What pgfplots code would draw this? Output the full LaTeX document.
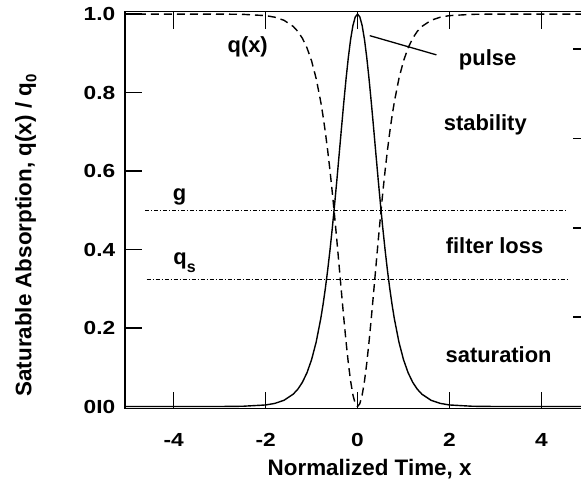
\documentclass[border=0pt]{standalone}
\usepackage{fontspec}
\setmainfont{Liberation Sans}
\newfontfamily\labfont{Liberation Sans Bold}
\usepackage{graphicx}
\usepackage{pgfplots}
\usepackage{pgfplotstable}
\pgfplotsset{compat=1.18}
\newcommand\tk[1]{\scalebox{1.2}[1]{#1}}

\pgfplotstableread{
x p q
-5.06 0.0000 1.0000
-4.00 0.0000 1.0000
-3.00 0.0001 0.9999
-2.50 0.0007 0.9993
-2.00 0.0040 0.9960
-1.80 0.0080 0.9920
-1.60 0.0159 0.9841
-1.40 0.0315 0.9685
-1.30 0.0442 0.9558
-1.20 0.0618 0.9382
-1.10 0.0862 0.9138
-1.00 0.1195 0.8805
-0.90 0.1645 0.8355
-0.80 0.2242 0.7758
-0.75 0.2605 0.7395
-0.70 0.3015 0.6985
-0.65 0.3475 0.6525
-0.60 0.3983 0.6017
-0.55 0.4539 0.5461
-0.50 0.5137 0.4863
-0.45 0.5770 0.4230
-0.40 0.6427 0.3573
-0.35 0.7090 0.2910
-0.30 0.7739 0.2261
-0.25 0.8350 0.1650
-0.20 0.8899 0.1101
-0.15 0.9360 0.0640
-0.10 0.9709 0.0291
-0.05 0.9926 0.0074
0.00 1.0000 0.0000
0.05 0.9926 0.0074
0.10 0.9709 0.0291
0.15 0.9360 0.0640
0.20 0.8899 0.1101
0.25 0.8350 0.1650
0.30 0.7739 0.2261
0.35 0.7090 0.2910
0.40 0.6427 0.3573
0.45 0.5770 0.4230
0.50 0.5137 0.4863
0.55 0.4539 0.5461
0.60 0.3983 0.6017
0.65 0.3475 0.6525
0.70 0.3015 0.6985
0.75 0.2605 0.7395
0.80 0.2242 0.7758
0.90 0.1645 0.8355
1.00 0.1195 0.8805
1.10 0.0862 0.9138
1.20 0.0618 0.9382
1.30 0.0442 0.9558
1.40 0.0315 0.9685
1.60 0.0159 0.9841
1.80 0.0080 0.9920
2.00 0.0040 0.9960
2.50 0.0007 0.9993
3.00 0.0001 0.9999
4.00 0.0000 1.0000
5.06 0.0000 1.0000
}\datatable

\begin{document}
\begin{tikzpicture}
\pgfplotsset{
  common/.style={
    scale only axis, width=465.1bp, height=396.8bp,
    xmin=-5.06, xmax=5.06, ymin=-0.005, ymax=1.006,
    tick align=inside, major tick length=17bp,
    axis line style={line width=1.3bp},
    every tick/.style={line width=1.3bp, black},
    ticklabel style={font=\labfont\fontsize{19}{21}\selectfont},
  }
}
\begin{axis}[common,
  xtick={-4,-2,0,2,4}, xticklabels={\tk{-4},\tk{-2},\tk{0},\tk{2},\tk{4}},
  ytick={0,0.2,0.4,0.6,0.8,1.0}, yticklabels={\tk{0I0},\tk{0.2},\tk{0.4},\tk{0.6},\tk{0.8},\tk{1.0}},
  xtick pos=both, ytick pos=left,
  yticklabel style={anchor=east, inner sep=0pt, xshift=-9.5bp},
  xticklabel style={anchor=north, inner sep=0pt, yshift=-24.5bp},
  xlabel={Normalized Time, x},
  ylabel={Saturable Absorption, q(x) / q\raisebox{-5bp}{\fontsize{15}{18}\selectfont 0}},
  label style={font=\labfont\fontsize{22.5}{26}\selectfont},
  xlabel style={at={(rel axis cs:0.526,0)}, anchor=base, yshift=-66.5bp, inner sep=0pt},
  ylabel style={at={(rel axis cs:0,0.436)}, anchor=base, yshift=93.5bp, inner sep=0pt},
  clip=false,
]
\addplot[black, line width=1.4bp] table[x=x, y=p] {\datatable};
\addplot[black, line width=1.4bp, dash pattern=on 8bp off 5bp] table[x=x, y=q] {\datatable};
\addplot[black, line width=0.9bp, dash pattern=on 4bp off 2bp on 1bp off 2bp] coordinates {(-4.63,0.5) (4.57,0.5)};
\addplot[black, line width=0.9bp, dash pattern=on 4bp off 2bp on 1bp off 2bp] coordinates {(-4.59,0.324) (4.57,0.324)};
\draw[line width=1.3bp] (axis cs:0.265,0.945) -- (axis cs:1.717,0.896);
\begin{scope}[every node/.style={font=\labfont\fontsize{22}{26}\selectfont, inner sep=0pt, anchor=base}]
\node at (axis cs:-3.87,0.526) {g};
\node[anchor=base west] at (axis cs:-4.01,0.363) {q\raisebox{-8bp}{\fontsize{16}{20}\selectfont s}};
\node at (axis cs:-2.39,0.903) {q(x)};
\node at (axis cs:2.83,0.870) {pulse};
\node at (axis cs:2.78,0.704) {stability};
\node at (axis cs:2.98,0.389) {filter loss};
\node at (axis cs:3.07,0.112) {saturation};
\end{scope}
\coordinate (sw) at (rel axis cs:0,0);
\coordinate (ne) at (rel axis cs:1,1);
\end{axis}
\begin{axis}[common,
  hide x axis, axis y line*=right,
  ytick={0.228,0.455,0.683,0.911}, yticklabels={},
]
\addplot[draw=none] coordinates {(0,0.5)};
\end{axis}
\path (sw) ++(-125bp,-77.5bp) coordinate (a);
\path (ne) ++(-9.1bp,11.7bp) coordinate (b);
\pgfresetboundingbox
\useasboundingbox (a) rectangle (b);
\end{tikzpicture}
\end{document}
